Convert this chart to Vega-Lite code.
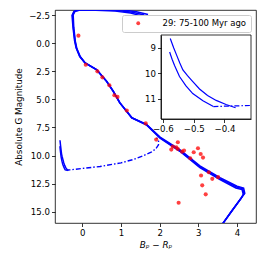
{
  "$schema": "https://vega.github.io/schema/vega-lite/v6.json",
  "width": 201,
  "height": 213,
  "autosize": "none",
  "padding": {"left": 55, "top": 10, "right": 10, "bottom": 43},
  "datasets": {
    "iso": [
      {"s":"iso1","i":0,"bp":3.58,"g":16.3},{"s":"iso1","i":1,"bp":3.85,"g":15.0},{"s":"iso1","i":2,"bp":4.11,"g":13.78},{"s":"iso1","i":3,"bp":4.18,"g":13.4},{"s":"iso1","i":4,"bp":4.15,"g":12.96},{"s":"iso1","i":5,"bp":3.99,"g":12.8},{"s":"iso1","i":6,"bp":3.56,"g":12.05},{"s":"iso1","i":7,"bp":3.04,"g":11.0},{"s":"iso1","i":8,"bp":2.52,"g":9.55},{"s":"iso1","i":9,"bp":2.01,"g":8.4},{"s":"iso1","i":10,"bp":1.66,"g":7.25},{"s":"iso1","i":11,"bp":1.28,"g":6.64},{"s":"iso1","i":12,"bp":0.97,"g":5.3},{"s":"iso1","i":13,"bp":0.8,"g":4.28},{"s":"iso1","i":14,"bp":0.63,"g":3.4},{"s":"iso1","i":15,"bp":0.37,"g":2.36},{"s":"iso1","i":16,"bp":0.07,"g":1.75},{"s":"iso1","i":17,"bp":-0.06,"g":1.19},{"s":"iso1","i":18,"bp":-0.15,"g":0.45},{"s":"iso1","i":19,"bp":-0.19,"g":-0.2},{"s":"iso1","i":20,"bp":-0.23,"g":-1.4},{"s":"iso1","i":21,"bp":-0.25,"g":-2.5},{"s":"iso1","i":22,"bp":-0.2,"g":-2.85},{"s":"iso1","i":23,"bp":-0.05,"g":-2.97},{"s":"iso1","i":24,"bp":0.4,"g":-2.98},{"s":"iso1","i":25,"bp":0.9,"g":-2.9},{"s":"iso1","i":26,"bp":1.3,"g":-2.75},{"s":"iso1","i":27,"bp":1.6,"g":-2.5},
      {"s":"iso2","i":0,"bp":3.58,"g":16.3},{"s":"iso2","i":1,"bp":3.85,"g":15.0},{"s":"iso2","i":2,"bp":4.12,"g":13.72},{"s":"iso2","i":3,"bp":4.2,"g":13.35},{"s":"iso2","i":4,"bp":4.17,"g":12.9},{"s":"iso2","i":5,"bp":4.0,"g":12.72},{"s":"iso2","i":6,"bp":3.56,"g":11.97},{"s":"iso2","i":7,"bp":3.04,"g":10.92},{"s":"iso2","i":8,"bp":2.52,"g":9.48},{"s":"iso2","i":9,"bp":2.01,"g":8.35},{"s":"iso2","i":10,"bp":1.66,"g":7.22},{"s":"iso2","i":11,"bp":1.28,"g":6.62},{"s":"iso2","i":12,"bp":0.965,"g":5.29},{"s":"iso2","i":13,"bp":0.795,"g":4.27},{"s":"iso2","i":14,"bp":0.625,"g":3.39},{"s":"iso2","i":15,"bp":0.365,"g":2.35},{"s":"iso2","i":16,"bp":0.065,"g":1.74},{"s":"iso2","i":17,"bp":-0.07,"g":1.17},{"s":"iso2","i":18,"bp":-0.16,"g":0.42},{"s":"iso2","i":19,"bp":-0.2,"g":-0.22},{"s":"iso2","i":20,"bp":-0.24,"g":-1.4},{"s":"iso2","i":21,"bp":-0.265,"g":-2.47},{"s":"iso2","i":22,"bp":-0.22,"g":-2.8},{"s":"iso2","i":23,"bp":-0.08,"g":-2.92},{"s":"iso2","i":24,"bp":0.35,"g":-2.93},{"s":"iso2","i":25,"bp":0.85,"g":-2.85},{"s":"iso2","i":26,"bp":1.25,"g":-2.68},{"s":"iso2","i":27,"bp":1.5,"g":-2.45},
      {"s":"iso3","i":0,"bp":3.58,"g":16.3},{"s":"iso3","i":1,"bp":3.85,"g":15.0},{"s":"iso3","i":2,"bp":4.1,"g":13.82},{"s":"iso3","i":3,"bp":4.16,"g":13.45},{"s":"iso3","i":4,"bp":4.13,"g":13.02},{"s":"iso3","i":5,"bp":3.97,"g":12.88},{"s":"iso3","i":6,"bp":3.56,"g":12.13},{"s":"iso3","i":7,"bp":3.04,"g":11.08},{"s":"iso3","i":8,"bp":2.52,"g":9.62},{"s":"iso3","i":9,"bp":2.01,"g":8.45},{"s":"iso3","i":10,"bp":1.66,"g":7.28},{"s":"iso3","i":11,"bp":1.28,"g":6.66},{"s":"iso3","i":12,"bp":0.975,"g":5.31},{"s":"iso3","i":13,"bp":0.805,"g":4.29},{"s":"iso3","i":14,"bp":0.635,"g":3.41},{"s":"iso3","i":15,"bp":0.375,"g":2.37},{"s":"iso3","i":16,"bp":0.075,"g":1.76},{"s":"iso3","i":17,"bp":-0.05,"g":1.21},{"s":"iso3","i":18,"bp":-0.14,"g":0.48},{"s":"iso3","i":19,"bp":-0.18,"g":-0.18},{"s":"iso3","i":20,"bp":-0.22,"g":-1.4},{"s":"iso3","i":21,"bp":-0.235,"g":-2.52},{"s":"iso3","i":22,"bp":-0.18,"g":-2.9},{"s":"iso3","i":23,"bp":0.0,"g":-3.02},{"s":"iso3","i":24,"bp":0.5,"g":-3.05},{"s":"iso3","i":25,"bp":1.0,"g":-2.97},{"s":"iso3","i":26,"bp":1.4,"g":-2.8},{"s":"iso3","i":27,"bp":1.7,"g":-2.55},
      {"s":"wdA","i":0,"bp":-0.576,"g":8.64},{"s":"wdA","i":1,"bp":-0.565,"g":9.0},{"s":"wdA","i":2,"bp":-0.555,"g":9.3},{"s":"wdA","i":3,"bp":-0.545,"g":9.6},{"s":"wdA","i":4,"bp":-0.535,"g":9.87},{"s":"wdA","i":5,"bp":-0.52,"g":10.1},{"s":"wdA","i":6,"bp":-0.505,"g":10.3},{"s":"wdA","i":7,"bp":-0.481,"g":10.62},{"s":"wdA","i":8,"bp":-0.455,"g":10.88},{"s":"wdA","i":9,"bp":-0.427,"g":11.07},{"s":"wdA","i":10,"bp":-0.395,"g":11.23},{"s":"wdA","i":11,"bp":-0.364,"g":11.36},
      {"s":"wdB","i":0,"bp":-0.578,"g":9.17},{"s":"wdB","i":1,"bp":-0.57,"g":9.45},{"s":"wdB","i":2,"bp":-0.562,"g":9.7},{"s":"wdB","i":3,"bp":-0.546,"g":10.13},{"s":"wdB","i":4,"bp":-0.525,"g":10.5},{"s":"wdB","i":5,"bp":-0.503,"g":10.8},{"s":"wdB","i":6,"bp":-0.47,"g":11.08},{"s":"wdB","i":7,"bp":-0.436,"g":11.31},
      {"s":"dd","i":0,"bp":-0.436,"g":11.31},{"s":"dd","i":1,"bp":-0.38,"g":11.29},{"s":"dd","i":2,"bp":-0.316,"g":11.27},{"s":"dd","i":3,"bp":0.0,"g":11.15},{"s":"dd","i":4,"bp":0.46,"g":10.97},{"s":"dd","i":5,"bp":1.0,"g":10.65},{"s":"dd","i":6,"bp":1.32,"g":10.35},{"s":"dd","i":7,"bp":1.6,"g":9.98},{"s":"dd","i":8,"bp":1.78,"g":9.7},{"s":"dd","i":9,"bp":1.9,"g":9.4},{"s":"dd","i":10,"bp":1.97,"g":9.05},{"s":"dd","i":11,"bp":1.97,"g":8.7},{"s":"dd","i":12,"bp":1.92,"g":8.4}
    ],
    "stars": [
      {"grp":"29: 75-100 Myr ago","bp":-0.10,"g":-0.67},{"grp":"29: 75-100 Myr ago","bp":0.09,"g":1.92},{"grp":"29: 75-100 Myr ago","bp":0.39,"g":2.51},{"grp":"29: 75-100 Myr ago","bp":0.52,"g":3.04},{"grp":"29: 75-100 Myr ago","bp":0.70,"g":3.75},{"grp":"29: 75-100 Myr ago","bp":0.83,"g":4.64},{"grp":"29: 75-100 Myr ago","bp":0.91,"g":4.78},{"grp":"29: 75-100 Myr ago","bp":1.15,"g":5.99},{"grp":"29: 75-100 Myr ago","bp":1.64,"g":7.14},{"grp":"29: 75-100 Myr ago","bp":1.91,"g":8.58},{"grp":"29: 75-100 Myr ago","bp":2.47,"g":8.82},{"grp":"29: 75-100 Myr ago","bp":2.34,"g":9.2},{"grp":"29: 75-100 Myr ago","bp":2.30,"g":9.47},{"grp":"29: 75-100 Myr ago","bp":2.43,"g":9.27},{"grp":"29: 75-100 Myr ago","bp":2.47,"g":9.42},{"grp":"29: 75-100 Myr ago","bp":2.58,"g":9.65},{"grp":"29: 75-100 Myr ago","bp":2.63,"g":9.56},{"grp":"29: 75-100 Myr ago","bp":2.79,"g":10.24},{"grp":"29: 75-100 Myr ago","bp":2.88,"g":9.71},{"grp":"29: 75-100 Myr ago","bp":2.99,"g":9.35},{"grp":"29: 75-100 Myr ago","bp":3.06,"g":9.86},{"grp":"29: 75-100 Myr ago","bp":3.12,"g":10.18},{"grp":"29: 75-100 Myr ago","bp":3.07,"g":11.77},{"grp":"29: 75-100 Myr ago","bp":3.27,"g":11.48},{"grp":"29: 75-100 Myr ago","bp":3.36,"g":12.07},{"grp":"29: 75-100 Myr ago","bp":3.51,"g":11.92},{"grp":"29: 75-100 Myr ago","bp":3.10,"g":12.65},{"grp":"29: 75-100 Myr ago","bp":3.19,"g":13.45},{"grp":"29: 75-100 Myr ago","bp":2.49,"g":14.2}
    ]
  },
  "layer": [
    {
      "layer": [
        {
          "data": {"name": "iso"},
          "transform": [{"filter": "datum.s != 'dd'"}],
          "mark": {"type": "line", "color": "#0000ff", "strokeWidth": 1.5, "clip": true},
          "encoding": {
            "x": {"field": "bp", "type": "quantitative", "scale": {"domain": [-0.705, 4.49], "zero": false, "nice": false},
              "axis": {"values": [0,1,2,3,4], "tickCount": 10, "format": "d", "title": "Bₚ − Rₚ", "titleFontStyle": "italic", "domain": false, "titlePadding": 3, "labelOverlap": false}},
            "y": {"field": "g", "type": "quantitative", "scale": {"domain": [-2.95, 16], "reverse": true, "zero": false, "nice": false},
              "axis": {"values": [-2.5,0,2.5,5,7.5,10,12.5,15], "tickCount": 12, "format": ".1f", "title": "Absolute G Magnitude", "domain": false, "titlePadding": 5, "labelOverlap": false}},
            "detail": {"field": "s"},
            "order": {"field": "i", "type": "quantitative"}
          }
        },
        {
          "data": {"name": "iso"},
          "transform": [{"filter": "datum.s == 'dd'"}],
          "mark": {"type": "line", "color": "#0000ff", "strokeWidth": 1.4, "strokeDash": [5, 2, 1.5, 2], "clip": true},
          "encoding": {
            "x": {"field": "bp", "type": "quantitative"},
            "y": {"field": "g", "type": "quantitative"},
            "order": {"field": "i", "type": "quantitative"}
          }
        },
        {
          "data": {"name": "stars"},
          "mark": {"type": "circle", "size": 17, "opacity": 0.75, "clip": true},
          "encoding": {
            "x": {"field": "bp", "type": "quantitative"},
            "y": {"field": "g", "type": "quantitative"},
            "color": {"field": "grp", "type": "nominal", "scale": {"range": ["#ff0000"]},
              "legend": {"orient": "top-right", "offset": 5, "title": null, "padding": 4, "symbolOffset": 8, "labelOffset": 20,
                "fillColor": "rgba(255,255,255,0.8)", "strokeColor": "#cccccc", "cornerRadius": 2, "labelFontSize": 8.5,
                "symbolSize": 15, "symbolType": "circle", "symbolOpacity": 0.75, "symbolStrokeWidth": 0, "labelColor": "#000", "labelFont": "DejaVu Sans"}}
          }
        }
      ]
    },
    {
      "layer": [
        {
          "data": {"values": [{}]},
          "mark": {"type": "rect", "fill": "#ffffff", "stroke": "#000000", "strokeWidth": 0.8},
          "encoding": {
            "x": {"datum": -0.606, "type": "quantitative", "scale": {"domain": [-0.606, -0.314], "range": [106, 196], "zero": false, "nice": false},
              "axis": {"orient": "bottom", "offset": -104, "values": [-0.6,-0.5,-0.4], "tickCount": 10, "format": ".1f", "title": null, "domain": true, "zindex": 1, "labelFlush": false, "labelOverlap": false}},
            "x2": {"datum": -0.314},
            "y": {"datum": 8.5, "type": "quantitative", "scale": {"domain": [8.5, 11.8], "range": [25, 109], "zero": false, "nice": false},
              "axis": {"orient": "left", "offset": -106, "values": [9,10,11], "tickCount": 10, "format": "d", "title": null, "domain": true, "zindex": 1, "labelOverlap": false}},
            "y2": {"datum": 11.8}
          }
        },
        {
          "data": {"name": "iso"},
          "transform": [{"filter": "datum.s != 'dd' && datum.bp >= -0.606 && datum.bp <= -0.314 && datum.g >= 8.5 && datum.g <= 11.8"}],
          "mark": {"type": "line", "color": "#0000ff", "strokeWidth": 1.2},
          "encoding": {
            "x": {"field": "bp", "type": "quantitative"},
            "y": {"field": "g", "type": "quantitative"},
            "detail": {"field": "s"},
            "order": {"field": "i", "type": "quantitative"}
          }
        },
        {
          "data": {"name": "iso"},
          "transform": [{"filter": "datum.s == 'dd' && datum.bp >= -0.606 && datum.bp <= -0.314 && datum.g >= 8.5 && datum.g <= 11.8"}],
          "mark": {"type": "line", "color": "#0000ff", "strokeWidth": 1.2, "strokeDash": [5, 2, 1.5, 2]},
          "encoding": {
            "x": {"field": "bp", "type": "quantitative"},
            "y": {"field": "g", "type": "quantitative"},
            "order": {"field": "i", "type": "quantitative"}
          }
        }
      ]
    }
  ],
  "resolve": {"scale": {"x": "independent", "y": "independent"}, "axis": {"x": "independent", "y": "independent"}},
  "config": {
    "font": "DejaVu Sans",
    "view": {"stroke": "#000000", "strokeWidth": 0.8},
    "legend": {"labelFontSize": 8.5, "labelFont": "DejaVu Sans"},
    "axis": {"grid": false, "labelFontSize": 8.6, "titleFontSize": 8.8, "titleFontWeight": "normal", "tickSize": 3.5, "tickColor": "#000", "tickWidth": 0.8,
      "labelColor": "#000", "titleColor": "#000", "domainColor": "#000", "domainWidth": 0.8, "labelPadding": 2, "labelFont": "DejaVu Sans", "titleFont": "DejaVu Sans",
      "labelFlush": false, "labelOverlap": false}
  }
}
